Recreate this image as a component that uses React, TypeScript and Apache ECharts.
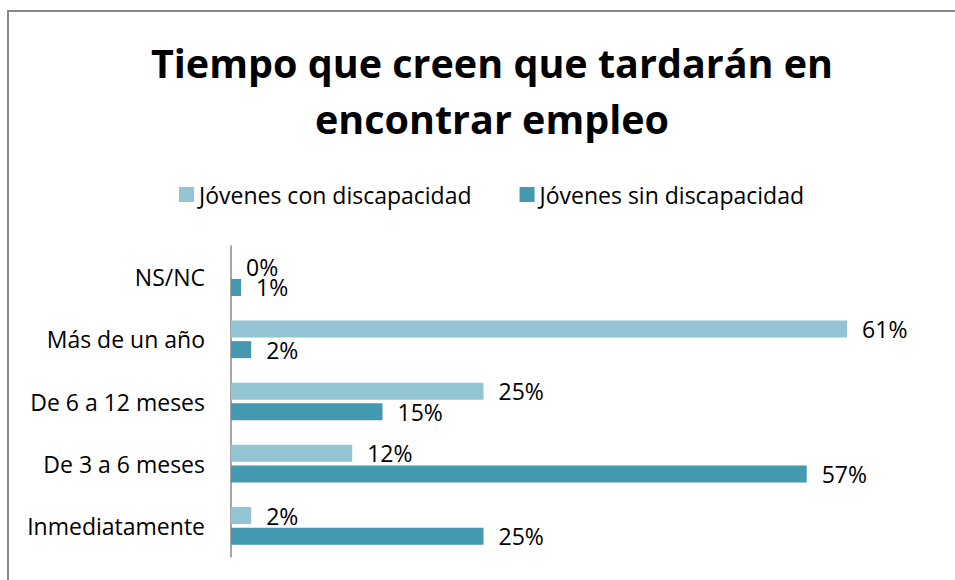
import React, { useEffect, useRef } from "react";
import * as echarts from "echarts";

const categories = ["NS/NC", "Más de un año", "De 6 a 12 meses", "De 3 a 6 meses", "Inmediatamente"];
const conDiscapacidad = [0, 61, 25, 12, 2];
const sinDiscapacidad = [1, 2, 15, 57, 25];
const seriesNames = ["Jóvenes con discapacidad", "Jóvenes sin discapacidad"];
const titleLines = ["Tiempo que creen que tardarán en", "encontrar empleo"];

const FONT = "'Open Sans', sans-serif";

export default function App() {
  const ref = useRef<HTMLDivElement>(null);
  useEffect(() => {
    if (!ref.current) return;
    const chart = echarts.init(ref.current, null, { renderer: "svg" });
    chart.setOption({
      animation: false,
      backgroundColor: "#ffffff",
      title: {
        text: titleLines.join("\n"),
        left: 487,
        textAlign: "center",
        top: 30,
        textStyle: { fontFamily: FONT, fontWeight: "bold", fontSize: 39.5, lineHeight: 56, color: "#000" },
      },
      graphic: [
        {
          type: "rect",
          shape: { x: 8, y: 11, width: 1000, height: 1000 },
          style: { fill: "none", stroke: "#888888", lineWidth: 2 },
          silent: true,
        },
      ],
      legend: {
        top: 178,
        left: 174,
        itemWidth: 15,
        itemHeight: 15,
        itemGap: 48,
        icon: "rect",
        textStyle: { fontFamily: FONT, fontSize: 23, color: "#000", padding: [0, 0, 0, 0] },
        data: seriesNames,
      },
      grid: { left: 231, top: 246, height: 311, width: 707, containLabel: false },
      xAxis: {
        type: "value",
        min: 0,
        max: 70,
        show: false,
      },
      yAxis: {
        type: "category",
        data: categories,
        inverse: true,
        axisLine: { show: true, lineStyle: { color: "#888888", width: 1.5 } },
        axisTick: { show: false },
        axisLabel: { fontFamily: FONT, fontSize: 23, color: "#000", margin: 26 },
      },
      series: [
        {
          name: seriesNames[0],
          type: "bar",
          data: conDiscapacidad,
          barWidth: 17,
          barGap: "22%",
          itemStyle: { color: "#93C4D4" },
          label: {
            show: true,
            position: "right",
            distance: 15,
            formatter: "{c}%",
            fontFamily: FONT,
            fontSize: 23,
            color: "#000",
          },
        },
        {
          name: seriesNames[1],
          type: "bar",
          data: sinDiscapacidad,
          barWidth: 17,
          barGap: "22%",
          itemStyle: { color: "#4499B0" },
          label: {
            show: true,
            position: "right",
            distance: 15,
            formatter: "{c}%",
            fontFamily: FONT,
            fontSize: 23,
            color: "#000",
          },
        },
      ],
    });
    return () => chart.dispose();
  }, []);
  return (
    <div
      ref={ref}
      style={{ position: "absolute", left: 0, top: 0, width: 955, height: 580 }}
    />
  );
}
